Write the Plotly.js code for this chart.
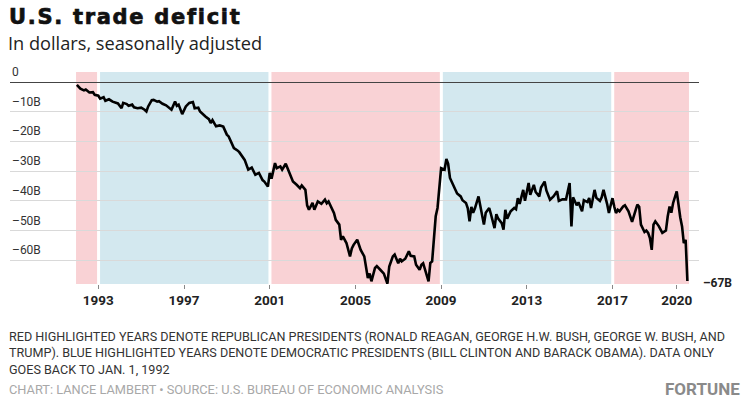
<!DOCTYPE html>
<html>
<head>
<meta charset="utf-8">
<script src="https://cdn.plot.ly/plotly-3.0.1.min.js"></script>
<style>
  html, body { margin: 0; padding: 0; background: #fff; }
  #chart { width: 742px; height: 399px; }
  .gtitle { letter-spacing: 1.7px; stroke: #111; stroke-width: 0.7px; }
</style>
</head>
<body>
<div id="chart"></div>
<script>
// ---- Data, $ billions, monthly ----
const months = [
  '1992-01','1992-03','1992-05','1992-06','1992-08','1992-10','1992-11',
  '1993-01','1993-02','1993-04','1993-05','1993-07','1993-09','1993-11','1993-12',
  '1994-02','1994-03','1994-05','1994-06','1994-08','1994-09','1994-11',
  '1995-01','1995-03','1995-04','1995-05','1995-07','1995-08','1995-10','1995-11',
  '1996-01','1996-03','1996-05','1996-06','1996-08','1996-09','1996-10','1996-12',
  '1997-02','1997-04','1997-06','1997-07','1997-09','1997-10',
  '1998-01','1998-03','1998-04','1998-05','1998-07','1998-09','1998-11',
  '1999-01','1999-02','1999-05','1999-07','1999-08','1999-11',
  '2000-01','2000-03','2000-05','2000-07','2000-09','2000-10','2000-12',
  '2001-01','2001-02','2001-04','2001-05','2001-07','2001-08','2001-10','2001-12',
  '2002-02','2002-04','2002-06','2002-07','2002-09','2002-10','2002-11',
  '2003-01','2003-02','2003-04','2003-06','2003-08','2003-09','2003-10','2003-11',
  '2004-01','2004-02','2004-04','2004-05','2004-06','2004-08','2004-10','2004-11','2004-12',
  '2005-02','2005-04','2005-06','2005-07','2005-08','2005-09','2005-10','2005-12',
  '2006-01','2006-03','2006-05','2006-07','2006-08','2006-10','2006-11',
  '2007-01','2007-02','2007-03','2007-05','2007-07','2007-08','2007-10','2007-11',
  '2008-01','2008-02','2008-03','2008-04','2008-06','2008-07','2008-08','2008-10','2008-11',
  '2009-01','2009-03','2009-04','2009-05','2009-06','2009-07','2009-09','2009-10','2009-12',
  '2010-01','2010-03','2010-04','2010-05','2010-06','2010-07','2010-08','2010-10','2010-11',
  '2011-01','2011-02','2011-04','2011-05','2011-07','2011-08','2011-09','2011-11','2011-12',
  '2012-01','2012-02','2012-04','2012-06','2012-07','2012-08','2012-09','2012-11','2012-12',
  '2013-02','2013-03','2013-05','2013-06','2013-08','2013-09','2013-11','2013-12',
  '2014-02','2014-04','2014-06','2014-07','2014-09','2014-11',
  '2015-01','2015-02','2015-03','2015-05','2015-06','2015-08','2015-09','2015-11','2015-12',
  '2016-01','2016-03','2016-04','2016-06','2016-07','2016-08','2016-10','2016-11','2016-12',
  '2017-01','2017-02','2017-03','2017-04','2017-05','2017-07','2017-08','2017-10','2017-12',
  '2018-02','2018-03','2018-04','2018-05','2018-07','2018-08','2018-09','2018-10','2018-11','2018-12',
  '2019-01','2019-03','2019-05','2019-07','2019-08','2019-09','2019-10','2019-11',
  '2020-01','2020-02','2020-03','2020-04','2020-05','2020-06','2020-07'
];
const deficit = [
  -0.9,-2.2,-2.8,-2.5,-3.5,-3.4,-4.3,
  -4.6,-5.6,-5.1,-6.3,-5.8,-6.6,-6.9,-7.2,
  -8.8,-7.0,-7.4,-8.0,-7.6,-8.5,-8.8,
  -8.6,-9.3,-9.9,-8.2,-6.1,-6.0,-6.6,-6.4,
  -7.3,-7.8,-8.6,-9.3,-6.5,-8.0,-7.6,-10.8,
  -8.2,-7.0,-6.7,-8.8,-8.6,-9.9,
  -11.6,-12.5,-13.8,-12.8,-14.9,-14.6,-15.0,
  -17.7,-18.3,-22.2,-23.0,-23.6,-26.2,
  -29.5,-28.8,-31.2,-30.6,-33.0,-33.5,-35.2,
  -30.6,-32.5,-27.3,-29.0,-28.4,-29.5,-27.5,-30.5,
  -33.5,-34.5,-35.7,-34.8,-36.3,-41.5,-43.0,
  -40.7,-43.0,-40.2,-41.0,-39.6,-40.8,-40.2,-41.5,
  -44.1,-46.4,-48.0,-53.1,-52.0,-54.2,-58.7,-56.0,-54.8,
  -53.1,-56.5,-58.7,-62.0,-66.0,-64.5,-67.1,-62.6,
  -62.0,-63.2,-64.5,-67.9,-62.1,-58.7,-58.1,
  -61.0,-59.5,-60.4,-59.5,-57.0,-58.5,-58.7,-61.5,
  -63.2,-61.5,-61.0,-63.0,-67.1,-60.9,-60.4,-45.2,-42.4,
  -29.0,-29.5,-25.9,-27.5,-32.3,-33.5,-36.3,-37.5,-38.5,
  -39.8,-40.7,-42.5,-46.9,-42.0,-44.0,-42.5,-38.5,-42.0,
  -48.0,-44.0,-42.4,-44.5,-49.2,-44.5,-46.0,-47.5,-49.7,
  -43.0,-46.0,-43.5,-42.4,-42.8,-39.1,-41.0,-36.3,-40.0,
  -34.0,-38.0,-34.6,-37.0,-38.5,-35.5,-33.5,-36.5,
  -39.6,-38.5,-36.8,-40.0,-39.5,-39.5,
  -34.0,-48.6,-38.8,-41.5,-40.5,-43.5,-39.8,-40.4,-39.0,
  -42.4,-36.3,-39.0,-40.0,-38.8,-36.3,-41.0,-44.1,-41.5,
  -39.1,-42.0,-44.1,-43.0,-43.5,-41.9,-41.5,-43.5,-47.1,
  -43.0,-41.3,-42.0,-48.0,-50.5,-50.0,-50.8,-52.5,-56.5,-48.0,
  -46.9,-48.5,-50.8,-50.0,-45.2,-41.9,-44.0,-40.7,
  -36.8,-42.4,-45.5,-48.6,-54.2,-53.1,-67.0
];

// Presidential terms (shading)
const termStarts = ['1991-12-18','1993-01-05','2001-01-05','2009-01-05','2017-01-05'];
const termEnds   = ['1993-01-05','2001-01-05','2009-01-05','2017-01-05','2020-07-28'];
const termParty  = ['R','D','R','D','R'];

// Axis ticks
const xTickVals = ['1993-01-01','1997-01-01','2001-01-01','2005-01-01','2009-01-01','2013-01-01','2017-01-01','2020-01-01'];
const xTickText = ['1993','1997','2001','2005','2009','2013','2017','2020'];
const yTickVals = [0,-10,-20,-30,-40,-50,-60];
const yTickText = ['0','–10B','–20B','–30B','–40B','–50B','–60B'];

// Footnote lines
const noteLines = [
  'RED HIGHLIGHTED YEARS DENOTE REPUBLICAN PRESIDENTS (RONALD REAGAN, GEORGE H.W. BUSH, GEORGE W. BUSH, AND',
  'TRUMP). BLUE HIGHLIGHTED YEARS DENOTE DEMOCRATIC PRESIDENTS (BILL CLINTON AND BARACK OBAMA). DATA ONLY',
  'GOES BACK TO JAN. 1, 1992'
];

// ---- Styles ----
const RED = '#f9d2d5';
const BLUE = '#d3e8ef';
const partyColor = {R: RED, D: BLUE};

const shapes = [];
termStarts.forEach((s, i) => {
  shapes.push({type: 'rect', xref: 'x', yref: 'paper', x0: s, x1: termEnds[i], y0: 0, y1: 1,
    fillcolor: partyColor[termParty[i]], line: {width: 0}, layer: 'below'});
});
termStarts.slice(1).forEach(s => {
  shapes.push({type: 'line', xref: 'x', yref: 'paper', x0: s, x1: s, y0: 0, y1: 1,
    line: {color: '#ffffff', width: 3}, layer: 'below'});
});

const trace = {
  x: months, y: deficit, type: 'scatter', mode: 'lines',
  line: {color: '#000000', width: 2.6, shape: 'linear'},
  hoverinfo: 'skip'
};

const H = 212; // plot height in px, used for paper-y conversions
const pyPaper = (py) => 1 + (72 - py) / H;
const W = 689;
const pxPaper = (px) => (px - 10) / W;

const lastVal = deficit[deficit.length - 1];

const annotations = [];
// y tick labels, sitting just above their gridlines
yTickVals.forEach((v, i) => {
  annotations.push({xref: 'paper', yref: 'y', x: 0, y: v, xanchor: 'left', yanchor: 'bottom',
    xshift: 0, yshift: 1, text: yTickText[i], showarrow: false,
    font: {family: 'Roboto, sans-serif', size: 12, color: '#333'}});
});
annotations.push(
  {xref: 'paper', yref: 'paper', x: pxPaper(6), y: pyPaper(43), xanchor: 'left', yanchor: 'middle',
   text: 'In dollars, seasonally adjusted', showarrow: false,
   font: {family: 'Open Sans, Roboto, sans-serif', size: 18.2, color: '#222'}},
  {xref: 'paper', yref: 'y', x: 1, y: lastVal, xanchor: 'left', yanchor: 'middle', xshift: 2, yshift: -2,
   text: '–' + Math.round(Math.abs(lastVal)) + 'B', showarrow: false,
   font: {family: 'Roboto, sans-serif', size: 12, color: '#222', weight: 'bold'}},
  {xref: 'paper', yref: 'paper', x: pxPaper(7), y: pyPaper(352.5), xanchor: 'left', yanchor: 'middle',
   align: 'left', text: noteLines.join('<br>'),
   showarrow: false, font: {family: 'Roboto, sans-serif', size: 12.6, color: '#333'}},
  {xref: 'paper', yref: 'paper', x: pxPaper(7), y: pyPaper(389), xanchor: 'left', yanchor: 'middle',
   text: 'CHART: LANCE LAMBERT • SOURCE: U.S. BUREAU OF ECONOMIC ANALYSIS',
   showarrow: false, font: {family: 'Roboto, sans-serif', size: 12.8, color: '#a8a8a8'}},
  {xref: 'paper', yref: 'paper', x: pxPaper(742), y: pyPaper(389), xanchor: 'right', yanchor: 'middle',
   text: 'FORTUNE', showarrow: false,
   font: {family: 'Roboto, sans-serif', size: 17, color: '#8a8a8a', weight: 'bold'}}
);

const layout = {
  width: 742, height: 399,
  margin: {l: 10, r: 43, t: 72, b: 115, pad: 0},
  paper_bgcolor: '#ffffff', plot_bgcolor: '#ffffff',
  showlegend: false,
  title: {
    text: 'U.S. trade deficit',
    xref: 'container', yref: 'container', x: 9 / 742, xanchor: 'left', y: 1 - 17 / 399, yanchor: 'middle',
    font: {family: 'DejaVu Sans, sans-serif', size: 21, color: '#111', weight: 'bold'}
  },
  xaxis: {
    type: 'date', range: ['1988-11-17', '2021-01-15'],
    tickmode: 'array', tickvals: xTickVals, ticktext: xTickText,
    ticks: 'outside', ticklen: 4, tickwidth: 1, tickcolor: '#888',
    showgrid: false, zeroline: false, showline: false,
    tickfont: {family: 'Roboto, sans-serif', size: 13.5, color: '#222', weight: 'bold'},
    fixedrange: true
  },
  yaxis: {
    range: [-68.0, 3.4],
    tickmode: 'array', tickvals: yTickVals, ticktext: yTickText,
    showticklabels: false, ticks: '',
    showgrid: true, gridcolor: '#d9d9d9', gridwidth: 1,
    zeroline: true, zerolinecolor: '#444', zerolinewidth: 1.2,
    showline: false,
    fixedrange: true
  },
  shapes: shapes,
  annotations: annotations
};

Plotly.newPlot('chart', [trace], layout, {displayModeBar: false, staticPlot: true});
</script>
</body>
</html>
